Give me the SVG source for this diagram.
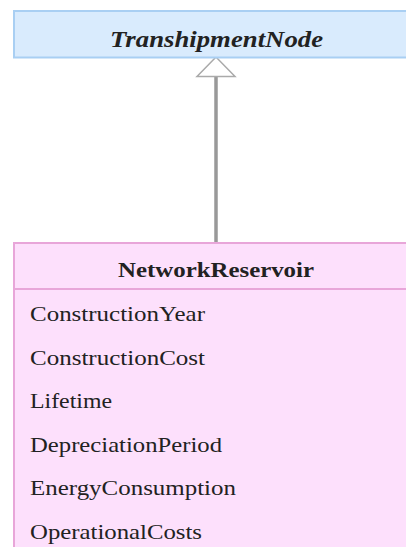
<svg xmlns="http://www.w3.org/2000/svg" width="406" height="547" viewBox="0 0 406 547">
<style>
.t{font-family:"Liberation Serif","Times New Roman",serif;fill:#222;}
.attr{font-size:21px;}
</style>
<rect width="406" height="547" fill="#fff"/>
<g id="connectors">
<line x1="216" y1="76" x2="216" y2="243" stroke="#999" stroke-width="3.5"/>
<polygon points="216,57 197,76.5 235,76.5" fill="#fff" stroke="#aaa" stroke-width="1.5"/>
</g>
<g id="TranshipmentNode">
<rect x="14" y="11" width="400" height="46.5" fill="#d9ebfd" stroke="#a9cff3" stroke-width="2"/>
<text class="t" x="216.5" y="47" text-anchor="middle" font-size="23" font-weight="bold" font-style="italic" textLength="213" lengthAdjust="spacingAndGlyphs">TranshipmentNode</text>
</g>
<g id="NetworkReservoir">
<rect x="14" y="243" width="400" height="320" fill="#fde0fc" stroke="#e8a6d9" stroke-width="2"/>
<line x1="14" y1="289" x2="406" y2="289" stroke="#e8a6d9" stroke-width="2"/>
<text class="t" x="216" y="277" text-anchor="middle" font-size="22" font-weight="bold" textLength="196" lengthAdjust="spacingAndGlyphs">NetworkReservoir</text>
<text class="t attr" x="30" y="321" textLength="175" lengthAdjust="spacingAndGlyphs">ConstructionYear</text>
<text class="t attr" x="30" y="364.5" textLength="175" lengthAdjust="spacingAndGlyphs">ConstructionCost</text>
<text class="t attr" x="30" y="408" textLength="82" lengthAdjust="spacingAndGlyphs">Lifetime</text>
<text class="t attr" x="30" y="451.5" textLength="192" lengthAdjust="spacingAndGlyphs">DepreciationPeriod</text>
<text class="t attr" x="30" y="495" textLength="206" lengthAdjust="spacingAndGlyphs">EnergyConsumption</text>
<text class="t attr" x="30" y="538.5" textLength="172" lengthAdjust="spacingAndGlyphs">OperationalCosts</text>
</g>
</svg>
